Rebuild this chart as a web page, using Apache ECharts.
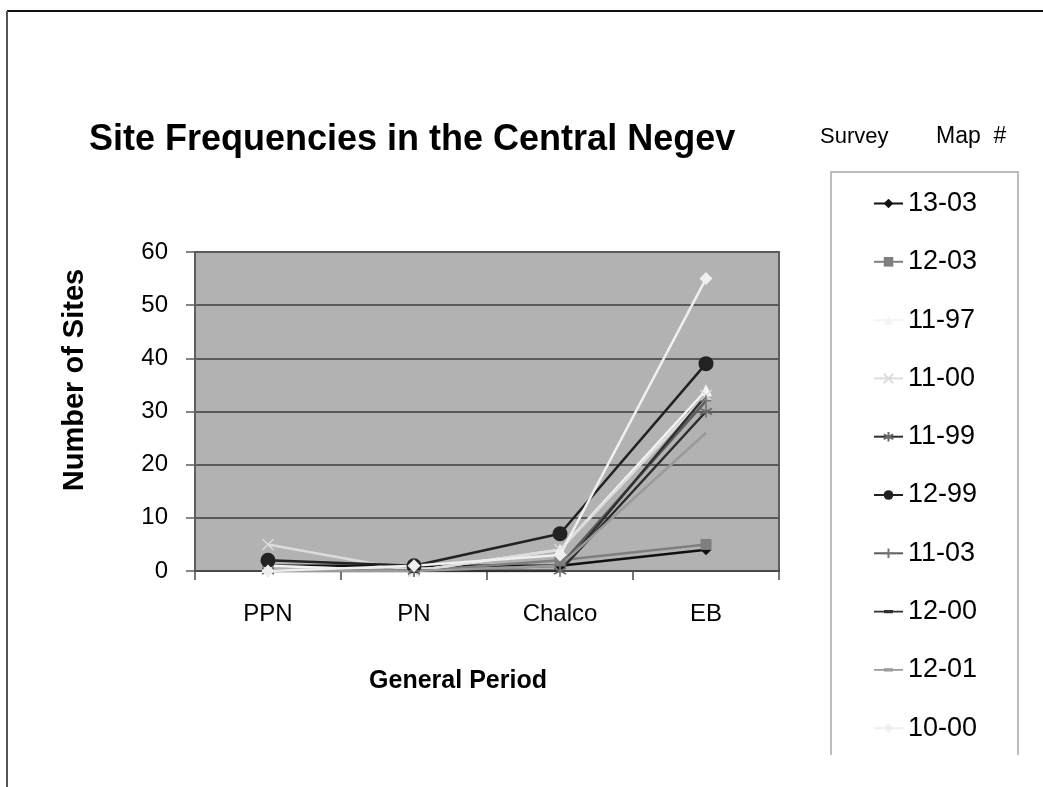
<!DOCTYPE html>
<html>
<head>
<meta charset="utf-8">
<title>Site Frequencies in the Central Negev</title>
<script src="https://cdn.jsdelivr.net/npm/echarts@6/dist/echarts.min.js"></script>
<style>
body{margin:0;padding:0;background:#fff;}
#lineChart1{width:1043px;height:787px;}
</style>
</head>
<body>
<div id="lineChart1"></div>
<script>
// periods on the x axis
var periods = ['PPN', 'PN', 'Chalco', 'EB'];
var yTicks = [0, 10, 20, 30, 40, 50, 60];

// sites per survey map
var s1303 = [1, 1, 1, 4];
var s1203 = [1, 0, 2, 5];
var s1197 = [1, 0, 4, 34];
var s1100 = [5, 0, 4, 33];
var s1199 = [0, 0, 0, 30];
var s1299 = [2, 1, 7, 39];
var s1103 = [0, 0, 1, 32];
var s1200 = [0, 0, 0, 33];
var s1201 = [0, 0, 1, 26];
var s1000 = [0, 1, 3, 55];

var font = 'Liberation Sans, Arial, sans-serif';

var xPath = 'path://M0,0L10,10M10,0L0,10';
var starPath = 'path://M5,0L5,10M0.7,2.5L9.3,7.5M0.7,7.5L9.3,2.5';
var plusPath = 'path://M5,0L5,10M0,5L10,5';
// plain line with a short dash, for the maps that have no marker
var dashIcon = 'path://M0,0M0,5.2L29,5.2L29,6.8L0,6.8ZM10,4.4L19,4.4L19,7.6L10,7.6ZM29,12';

function mk(name, data, lineColor, symbol, size, markColor, stroke) {
	var item = {color: markColor || lineColor};
	if (stroke) {
		item = {color: 'none', borderColor: markColor || lineColor, borderWidth: 1.5};
	}
	return {
		name: name,
		type: 'line',
		data: data,
		symbol: symbol,
		symbolSize: size,
		showAllSymbol: true,
		lineStyle: {color: lineColor, width: 2.5},
		itemStyle: item,
		emphasis: {disabled: true}
	};
}

var option1 = {
	animation: false,
	textStyle: {fontFamily: font},
	title: {
		text: 'Site Frequencies in the Central Negev',
		left: 84,
		top: 117,
		textStyle: {fontSize: 36, fontWeight: 'bold', color: '#000', fontFamily: font}
	},
	legend: {
		orient: 'vertical',
		left: 873,
		top: 190,
		padding: 0,
		itemWidth: 29,
		itemHeight: 12,
		itemGap: 31.3,
		textStyle: {fontSize: 27, color: '#000', fontFamily: font, lineHeight: 27},
		data: ['13-03', '12-03', '11-97', '11-00', '11-99', '12-99', '11-03',
			{name: '12-00', icon: dashIcon},
			{name: '12-01', icon: dashIcon},
			'10-00']
	},
	grid: {
		left: 195,
		top: 252,
		right: 264,
		bottom: 216,
		show: true,
		backgroundColor: '#b2b2b2',
		borderColor: '#5e5e5e',
		borderWidth: 2
	},
	xAxis: [{
		type: 'category',
		data: periods,
		axisLine: {lineStyle: {color: '#4a4a4a', width: 2}},
		axisTick: {show: true, length: 9, lineStyle: {color: '#4a4a4a', width: 1.5}},
		axisLabel: {fontSize: 24, color: '#000', margin: 31, fontFamily: font}
	}],
	yAxis: [{
		type: 'value',
		min: yTicks[0],
		max: yTicks[yTicks.length - 1],
		interval: 10,
		axisLine: {show: true, lineStyle: {color: '#5e5e5e', width: 2}},
		axisTick: {show: true, length: 9, lineStyle: {color: '#5e5e5e', width: 1.5}},
		axisLabel: {fontSize: 24, color: '#000', margin: 27, fontFamily: font},
		splitLine: {lineStyle: {color: '#5a5a5a', width: 2}}
	}],
	graphic: [
		{type: 'line', shape: {x1: 7, y1: 11, x2: 1043, y2: 11}, style: {stroke: '#111', lineWidth: 2}},
		{type: 'line', shape: {x1: 7, y1: 11, x2: 7, y2: 787}, style: {stroke: '#555', lineWidth: 2}},
		{type: 'polyline', shape: {points: [[831, 755], [831, 172], [1018, 172], [1018, 755]]},
			style: {stroke: '#a8a8a8', lineWidth: 1.5, fill: 'none'}},
		{type: 'text', x: 820, y: 137,
			style: {text: 'Survey', font: '22px ' + font, fill: '#000', textVerticalAlign: 'middle'}},
		{type: 'text', x: 936, y: 137,
			style: {text: 'Map  #', font: '23px ' + font, fill: '#000', textVerticalAlign: 'middle'}},
		{type: 'text', x: 75, y: 380, rotation: Math.PI / 2,
			style: {text: 'Number of Sites', font: 'bold 29px ' + font, fill: '#000',
				textAlign: 'center', textVerticalAlign: 'middle'}},
		{type: 'text', x: 458, y: 681,
			style: {text: 'General Period', font: 'bold 25px ' + font, fill: '#000',
				textAlign: 'center', textVerticalAlign: 'middle'}}
	],
	series: [
		mk('13-03', s1303, '#111', 'diamond', 11),
		mk('12-03', s1203, '#7f7f7f', 'rect', 11),
		mk('11-97', s1197, '#f4f4f4', 'triangle', 12),
		mk('11-00', s1100, '#dcdcdc', xPath, 11, '#dcdcdc', true),
		mk('11-99', s1199, '#2e2e2e', starPath, 12, '#6a6a6a', true),
		mk('12-99', s1299, '#222', 'circle', 15),
		mk('11-03', s1103, '#5c5c5c', plusPath, 11, '#777', true),
		mk('12-00', s1200, '#303030', 'none', 0),
		mk('12-01', s1201, '#9a9a9a', 'none', 0),
		mk('10-00', s1000, '#efefef', 'diamond', 13)
	]
};

var chart = echarts.init(document.getElementById('lineChart1'));
chart.setOption(option1);
</script>
</body>
</html>
